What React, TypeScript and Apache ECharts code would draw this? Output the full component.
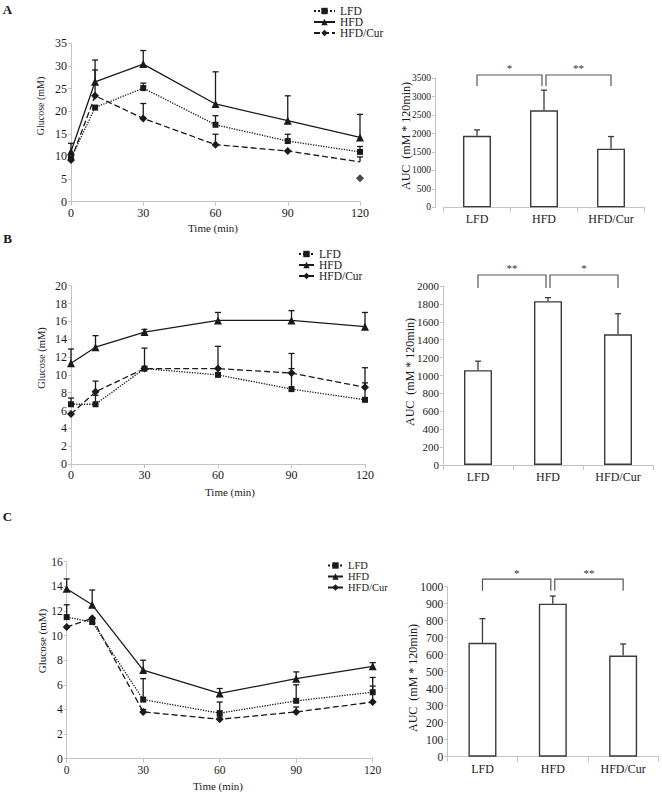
import React, { useEffect, useRef } from "react";
import * as echarts from "echarts";

const FONT = "Liberation Serif";
const INK = "#1a1a1a";
const AXIS = "#c4c4c4";
const BAR_EDGE = "#3a3a3a";
const BRACKET = "#555555";

// Shared categories
const times = [0, 10, 30, 60, 90, 120];
const groups = ["LFD", "HFD", "HFD/Cur"];

// Panel A – glucose (mM), means and top of error bars (null = no bar)
const aLFD = [9.6, 20.8, 25.1, 17.0, 13.4, 11.0];
const aLFDTop = [null, null, 26.2, 19.0, 14.9, 12.2];
const aHFD = [11.1, 26.5, 30.4, 21.6, 17.9, 14.2];
const aHFDTop = [12.9, 31.3, 33.4, 28.7, 23.4, 19.3];
const aCur = [9.2, 23.4, 18.4, 12.6, 11.2, 8.8];
const aCurTop = [null, 29.1, 21.7, 14.9, null, 9.9];
const aCurDetachedMarker = 5.2;
const aAUC = [1940, 2630, 1590];
const aAUCTop = [2100, 3180, 1920];

// Panel B
const bLFD = [6.7, 6.7, 10.7, 10.0, 8.4, 7.2];
const bLFDTop = [7.4, 7.7, null, null, 10.7, 9.1];
const bHFD = [11.3, 13.1, 14.8, 16.1, 16.1, 15.4];
const bHFDTop = [12.9, 14.4, 15.1, 17.0, 17.2, 17.0];
const bCur = [5.6, 8.1, 10.7, 10.7, 10.2, 8.6];
const bCurTop = [null, 9.3, 13.0, 13.2, 12.4, 10.8];
const bAUC = [1060, 1830, 1460];
const bAUCTop = [1160, 1870, 1690];

// Panel C
const cLFD = [11.5, 11.1, 4.8, 3.7, 4.7, 5.4];
const cLFDTop = [12.5, null, 6.5, 4.6, 6.0, 6.6];
const cHFD = [13.8, 12.5, 7.2, 5.3, 6.5, 7.5];
const cHFDTop = [14.6, 13.7, 8.0, 5.7, 7.05, 7.8];
const cCur = [10.7, 11.4, 3.8, 3.2, 3.8, 4.6];
const cCurTop = [null, null, 4.0, 3.4, 4.2, 5.9];
const cAUC = [670, 900, 595];
const cAUCTop = [812, 945, 663];

// Significance annotations: [from group, to group, label]
const sigA = [[0, 1, "*"], [1, 2, "**"]];
const sigB = [[0, 1, "**"], [1, 2, "*"]];
const sigC = [[0, 1, "*"], [1, 2, "**"]];

type Box = { left: number; top: number; width: number; height: number };

function errorBars(axis: number, xs: any[], means: number[], tops: (number | null)[], cap: number, color: string) {
  const data: any[] = [];
  xs.forEach((x, k) => {
    if (tops[k] != null) data.push([x, means[k], tops[k]]);
  });
  return {
    type: "custom",
    xAxisIndex: axis,
    yAxisIndex: axis,
    silent: true,
    clip: false,
    z: 4,
    itemStyle: { color },
    encode: { x: 0, y: [1, 2] },
    data,
    renderItem: (_p: any, api: any) => {
      const p1 = api.coord([api.value(0), api.value(1)]);
      const p2 = api.coord([api.value(0), api.value(2)]);
      return {
        type: "group",
        children: [
          { type: "line", shape: { x1: p1[0], y1: p1[1], x2: p2[0], y2: p2[1] }, style: { stroke: color, lineWidth: 1.3 } },
          { type: "line", shape: { x1: p2[0] - cap, y1: p2[1], x2: p2[0] + cap, y2: p2[1] }, style: { stroke: color, lineWidth: 1.3 } },
        ],
      };
    },
  };
}

function brackets(axis: number, sig: any[], topVal: number, legVal: number) {
  return {
    type: "custom",
    xAxisIndex: axis,
    yAxisIndex: axis,
    silent: true,
    clip: false,
    z: 5,
    itemStyle: { color: BRACKET },
    data: sig.map((s) => [s[0], s[1]]),
    encode: { x: [0, 1] },
    renderItem: (params: any, api: any) => {
      const a = api.value(0);
      const b = api.value(1);
      let xa = api.coord([a, topVal])[0];
      let xb = api.coord([b, topVal])[0];
      if (a === 1) xa += 2;
      if (b === 1) xb -= 2;
      const yt = api.coord([a, topVal])[1];
      const yl = api.coord([a, legVal])[1];
      return {
        type: "group",
        children: [
          {
            type: "polyline",
            shape: { points: [[xa, yl], [xa, yt], [xb, yt], [xb, yl]] },
            style: { stroke: BRACKET, lineWidth: 1.2, fill: null },
          },
          {
            type: "text",
            x: (xa + xb) / 2,
            y: yt - 1,
            style: {
              text: sig[params.dataIndex][2],
              fontFamily: FONT,
              fontSize: 11,
              fill: "#333333",
              align: "center",
              verticalAlign: "bottom",
            },
          },
        ],
      };
    },
  };
}

function yOf(c: any): number {
  return Array.isArray(c) ? c[1] : c.value[1];
}

const plain = (v: number) => String(v);

function buildOption() {
  const grid: any[] = [];
  const xAxis: any[] = [];
  const yAxis: any[] = [];
  const series: any[] = [];
  const legend: any[] = [];
  const graphic: any[] = [];

  const linePanel = (
    box: Box,
    yMax: number,
    yStep: number,
    fs: number,
    lfd: number[], lfdTop: any[],
    hfd: number[], hfdTop: any[],
    cur: any[], curTop: any[],
    leg: { left: number; top: number; gap: number; iw: number; fs: number }
  ) => {
    const i = grid.length;
    grid.push({ ...box });
    xAxis.push({
      type: "value",
      gridIndex: i,
      min: 0,
      max: 120,
      interval: 30,
      axisLine: { show: true, lineStyle: { color: AXIS, width: 1 } },
      axisTick: { show: true, length: 4, lineStyle: { color: AXIS } },
      axisLabel: { fontFamily: FONT, fontSize: fs, color: INK, margin: 5, formatter: plain },
      splitLine: { show: false },
    });
    yAxis.push({
      type: "value",
      gridIndex: i,
      min: 0,
      max: yMax,
      interval: yStep,
      axisLine: { show: true, lineStyle: { color: AXIS, width: 1 } },
      axisTick: { show: true, length: 3, lineStyle: { color: AXIS } },
      axisLabel: { fontFamily: FONT, fontSize: fs, color: INK, margin: 4, formatter: plain },
      splitLine: { show: false },
    });
    const common = { xAxisIndex: i, yAxisIndex: i, z: 3, itemStyle: { color: INK } };
    series.push({
      ...common,
      type: "line",
      name: "LFD",
      data: times.map((t, k) => [t, lfd[k]]),
      symbol: "rect",
      symbolSize: 6,
      lineStyle: { color: INK, width: 1.3, type: "dotted" },
    });
    series.push({
      ...common,
      type: "line",
      name: "HFD",
      data: times.map((t, k) => [t, hfd[k]]),
      symbol: "triangle",
      symbolSize: 8,
      lineStyle: { color: INK, width: 1.3, type: "solid" },
    });
    series.push({
      ...common,
      type: "line",
      name: "HFD/Cur",
      data: cur,
      symbol: "diamond",
      symbolSize: 8,
      lineStyle: { color: INK, width: 1.3, type: [6, 3] },
    });
    series.push(errorBars(i, times, lfd, lfdTop, 3, INK));
    series.push(errorBars(i, times, hfd, hfdTop, 3, INK));
    series.push(errorBars(i, times, cur.map(yOf), curTop, 3, INK));
    legend.push({
      data: groups,
      orient: "vertical",
      left: leg.left,
      top: leg.top,
      itemWidth: leg.iw,
      itemHeight: 8,
      itemGap: leg.gap,
      padding: 0,
      selectedMode: false,
      textStyle: { fontFamily: FONT, fontSize: leg.fs, color: INK },
    });
    return i;
  };

  const barPanel = (
    box: Box,
    yOffset: number,
    yMax: number,
    yStep: number,
    fs: number,
    vals: number[],
    tops: number[],
    sig: any[],
    bTop: number,
    bLeg: number
  ) => {
    const i = grid.length;
    grid.push({ ...box });
    xAxis.push({
      type: "category",
      gridIndex: i,
      data: groups,
      axisLine: { show: true, lineStyle: { color: AXIS, width: 1 } },
      axisTick: { show: true, length: 5, lineStyle: { color: AXIS } },
      axisLabel: { fontFamily: FONT, fontSize: 12, color: INK, margin: 6 },
      splitLine: { show: false },
    });
    yAxis.push({
      type: "value",
      gridIndex: i,
      min: 0,
      max: yMax,
      interval: yStep,
      offset: yOffset,
      axisLine: { show: true, lineStyle: { color: AXIS, width: 1 } },
      axisTick: { show: true, length: 3, lineStyle: { color: AXIS } },
      axisLabel: { fontFamily: FONT, fontSize: fs, color: INK, margin: 4, formatter: plain },
      splitLine: { show: false },
    });
    series.push({
      type: "bar",
      xAxisIndex: i,
      yAxisIndex: i,
      data: vals,
      barWidth: 28,
      itemStyle: { color: "#ffffff", borderColor: BAR_EDGE, borderWidth: 1.4 },
      z: 2,
    });
    series.push(errorBars(i, [0, 1, 2], vals, tops, 3, BAR_EDGE));
    series.push(brackets(i, sig, bTop, bLeg));
  };

  // Panel A
  linePanel(
    { left: 71, top: 43.3, width: 289, height: 158.4 },
    35, 5, 12,
    aLFD, aLFDTop, aHFD, aHFDTop,
    times.map((t, k) => (k === times.length - 1 ? { value: [t, aCur[k]], symbol: "none" } : [t, aCur[k]])),
    aCurTop,
    { left: 313, top: 5, gap: -1, iw: 21, fs: 11.5 }
  );
  series.push({
    type: "scatter",
    name: "HFD/Cur (120 min marker)",
    xAxisIndex: 0,
    yAxisIndex: 0,
    data: [[120, aCurDetachedMarker]],
    symbol: "diamond",
    symbolSize: 8,
    itemStyle: { color: INK },
    z: 3,
  });
  barPanel({ left: 443.5, top: 78.3, width: 201, height: 129 }, 8.5, 3500, 500, 9.5, aAUC, aAUCTop, sigA, 3590, 3290);

  // Panel B
  linePanel(
    { left: 71, top: 285.7, width: 294, height: 178.3 },
    20, 2, 12,
    bLFD, bLFDTop, bHFD, bHFDTop,
    times.map((t, k) => [t, bCur[k]]),
    bCurTop,
    { left: 298, top: 248, gap: -1, iw: 15, fs: 11.5 }
  );
  barPanel({ left: 443, top: 286, width: 210, height: 179 }, 0, 2000, 200, 11, bAUC, bAUCTop, sigB, 2123, 1978);

  // Panel C
  linePanel(
    { left: 66.7, top: 561.7, width: 306, height: 197 },
    16, 2, 11.5,
    cLFD, cLFDTop, cHFD, cHFDTop,
    times.map((t, k) => [t, cCur[k]]),
    cCurTop,
    { left: 327, top: 560, gap: 0, iw: 15, fs: 10.5 }
  );
  barPanel({ left: 447.3, top: 586.7, width: 211, height: 170 }, 0, 1000, 100, 11.5, cAUC, cAUCTop, sigC, 1045, 976);

  const txt = (text: string, x: number, y: number, size: number, rotate = false, bold = false) => ({
    type: "text",
    x,
    y,
    rotation: rotate ? Math.PI / 2 : 0,
    silent: true,
    style: {
      text,
      fontFamily: FONT,
      fontSize: size,
      fontWeight: bold ? "bold" : "normal",
      fill: INK,
      align: "center",
      verticalAlign: "middle",
    },
  });

  graphic.push(
    txt("A", 7.5, 9, 13, false, true),
    txt("B", 7.5, 238, 13, false, true),
    txt("C", 7.5, 516, 13, false, true),
    txt("Glucose (mM)", 40, 106, 10, true),
    txt("Time (min)", 213, 228, 11),
    txt("Glucose (mM)", 41, 358, 10.5, true),
    txt("Time (min)", 230, 492, 11),
    txt("Glucose (mM)", 42, 641, 11, true),
    txt("Time (min)", 218, 786, 11),
    txt("AUC  (mM * 120min)", 406, 136, 12, true),
    txt("AUC  (mM * 120min)", 410, 372, 12, true),
    txt("AUC  (mM * 120min)", 413, 678, 12, true)
  );

  return {
    animation: false,
    backgroundColor: "#ffffff",
    textStyle: { fontFamily: FONT },
    grid,
    xAxis,
    yAxis,
    series,
    legend,
    graphic,
  };
}

export default function App() {
  const ref = useRef<HTMLDivElement>(null);
  useEffect(() => {
    if (!ref.current) return;
    const chart = echarts.init(ref.current, undefined, { renderer: "svg" });
    chart.setOption(buildOption() as any);
    return () => chart.dispose();
  }, []);
  return (
    <div
      ref={ref}
      style={{ position: "absolute", left: 0, top: 0, width: 662, height: 795, background: "#fff" }}
    />
  );
}
